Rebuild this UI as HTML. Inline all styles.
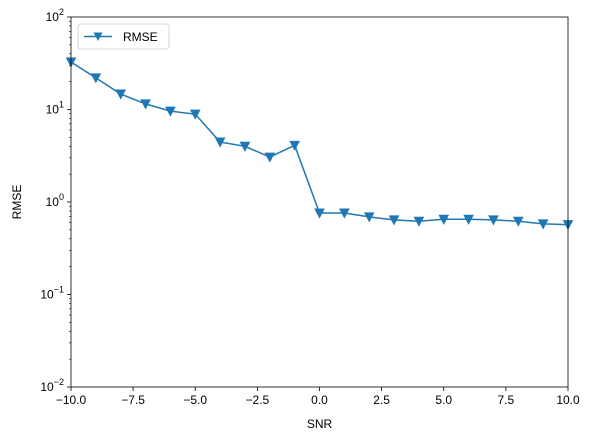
<!DOCTYPE html>
<html><head><meta charset="utf-8"><style>
body{margin:0;background:#fff;}
svg{display:block;font-family:"Liberation Sans","DejaVu Sans",sans-serif;}
</style></head><body>
<svg id="chart" width="593" height="440" viewBox="0 0 593 440" xmlns="http://www.w3.org/2000/svg"></svg>
<script>
const snrValues=[-10,-9,-8,-7,-6,-5,-4,-3,-2,-1,0,1,2,3,4,5,6,7,8,9,10];
const rmseValues=[32.6,22,14.7,11.5,9.6,8.9,4.45,4.0,3.06,4.1,0.76,0.76,0.69,0.64,0.62,0.65,0.65,0.64,0.62,0.58,0.57];
const xTicks=[-10,-7.5,-5,-2.5,0,2.5,5,7.5,10];
const xTickLabels=["\u221210.0","\u22127.5","\u22125.0","\u22122.5","0.0","2.5","5.0","7.5","10.0"];
const yTickExps=[-2,-1,0,1,2];

const svg=document.getElementById('chart');
const NS='http://www.w3.org/2000/svg';
const L=71,R=568,T=17,B=387;
const xs=v=>L+(v+10)/20*(R-L);
const ys=v=>B-(Math.log10(v)+2)/4*(B-T);
function mk(tag,attrs,parent){const e=document.createElementNS(NS,tag);for(const k in attrs)e.setAttribute(k,attrs[k]);(parent||svg).appendChild(e);return e;}

// ticks
xTicks.forEach((t,i)=>{
  const g=mk('g',{});
  
  
  mk('line',{x1:xs(t),x2:xs(t),y1:B,y2:B+4,stroke:'#000','stroke-width':0.8},g);
  const tx=mk('text',{x:xs(t),y:B+17,'font-size':12,'text-anchor':'middle'},g);
  tx.textContent=xTickLabels[i];
});
yTickExps.forEach(e=>{
  const g=mk('g',{});
  
  
  const y=ys(Math.pow(10,e));
  mk('line',{x1:L-4,x2:L,y1:y,y2:y,stroke:'#000','stroke-width':0.8},g);
  const tx=mk('text',{x:L-7,y:y+4,'font-size':12,'text-anchor':'end'},g);
  tx.appendChild(document.createTextNode('10'));
  const sp=document.createElementNS(NS,'tspan');sp.setAttribute('dy',-6);sp.setAttribute('font-size',9);sp.textContent=String(e).replace('-','\u2212');tx.appendChild(sp);
  if(e<2){for(let m=2;m<10;m++){const yy=ys(m*Math.pow(10,e));mk('line',{x1:L-2,x2:L,y1:yy,y2:yy,stroke:'#000','stroke-width':0.6},g);}}
});

// series
const pts=snrValues.map((s,i)=>xs(s)+','+ys(rmseValues[i])).join(' ');
const line=mk('polyline',{points:pts,fill:'none',stroke:'#1f77b4','stroke-width':1.5});


snrValues.forEach((s,i)=>{
  const x=xs(s),y=ys(rmseValues[i]);
  const m=mk('path',{d:`M${x-4.5},${y-4} L${x+4.5},${y-4} L${x},${y+4.5} Z`,fill:'#1f77b4',stroke:'#1f77b4'});
  
  
});

// frame
const fr=mk('rect',{x:L,y:T,width:R-L,height:B-T,fill:'none',stroke:'#000','stroke-width':0.8});



// labels
const xl=mk('text',{x:(L+R)/2,y:428,'font-size':12,'text-anchor':'middle'});xl.textContent='SNR';


const yl=mk('text',{x:21,y:(T+B)/2,'font-size':12,'text-anchor':'middle',transform:`rotate(-90 21 ${(T+B)/2})`});yl.textContent='RMSE';



// legend
const lg=mk('g',{});


mk('rect',{x:78,y:24,width:91,height:25,rx:3,fill:'#fff',stroke:'#ccc','stroke-width':0.8},lg);
mk('line',{x1:84,x2:112,y1:36.5,y2:36.5,stroke:'#1f77b4','stroke-width':1.5},lg);
mk('path',{d:'M93.5,32.5 L102.5,32.5 L98,41 Z',fill:'#1f77b4'},lg);
const lt=mk('text',{x:123,y:41,'font-size':12},lg);lt.textContent='RMSE';
</script>
</body></html>
